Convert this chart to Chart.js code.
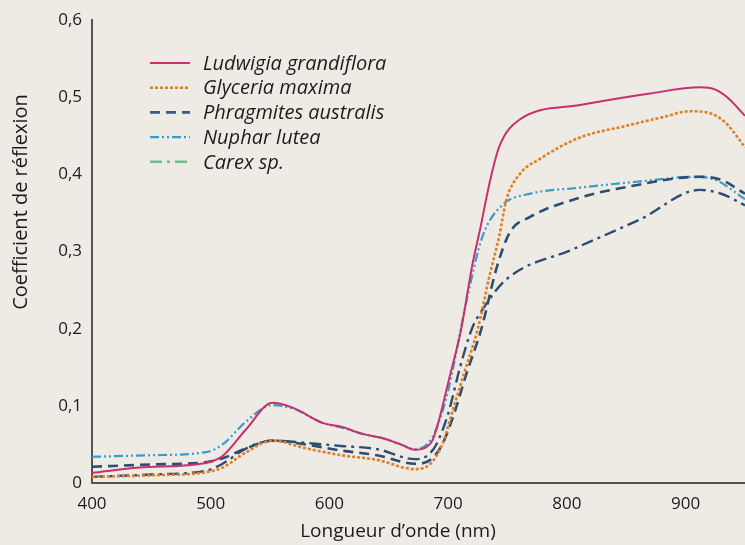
<!DOCTYPE html>
<html>
<head>
<meta charset="utf-8">
<script src="https://cdn.jsdelivr.net/npm/chart.js@4"></script>
<style>
  html, body { margin: 0; padding: 0; background: #eeebe5; }
  #wrap { width: 745px; height: 545px; position: relative; }
</style>
</head>
<body>
<div id="wrap"><canvas id="chart"></canvas></div>
<script>
// wavelengths (nm) and reflectance for each species
const ludwigiaNm  = [400, 440, 496, 510, 530, 552, 570, 594, 610, 627, 645, 660, 672, 682, 687, 693, 700, 711, 720, 727, 735, 743, 760, 811, 870, 912, 925, 935, 950];
const ludwigiaVal = [0.013, 0.020, 0.026, 0.035, 0.070, 0.104, 0.097, 0.078, 0.073, 0.064, 0.058, 0.050, 0.043, 0.047, 0.056, 0.086, 0.130, 0.200, 0.280, 0.330, 0.390, 0.436, 0.471, 0.490, 0.505, 0.513, 0.510, 0.500, 0.476];

const glyceriaNm  = [400, 450, 496, 510, 530, 552, 580, 610, 640, 672, 685, 695, 705, 715, 725, 735, 743, 749, 760, 777, 811, 847, 880, 904, 923, 935, 950];
const glyceriaVal = [0.008, 0.010, 0.014, 0.020, 0.040, 0.055, 0.045, 0.036, 0.030, 0.018, 0.025, 0.050, 0.100, 0.150, 0.200, 0.270, 0.320, 0.367, 0.400, 0.420, 0.448, 0.462, 0.474, 0.482, 0.478, 0.465, 0.435];

const phragNm  = [400, 450, 496, 510, 530, 552, 580, 610, 640, 672, 685, 695, 705, 715, 728, 741, 752, 769, 811, 851, 912, 930, 950];
const phragVal = [0.021, 0.024, 0.027, 0.032, 0.045, 0.055, 0.050, 0.042, 0.036, 0.025, 0.030, 0.050, 0.090, 0.140, 0.200, 0.280, 0.325, 0.345, 0.370, 0.384, 0.397, 0.393, 0.375];

const nupharNm  = [400, 450, 496, 510, 530, 552, 570, 594, 610, 627, 645, 660, 672, 682, 690, 700, 716, 729, 746, 766, 811, 862, 906, 925, 950];
const nupharVal = [0.034, 0.036, 0.040, 0.050, 0.080, 0.101, 0.096, 0.078, 0.072, 0.064, 0.058, 0.050, 0.044, 0.050, 0.070, 0.120, 0.240, 0.320, 0.361, 0.374, 0.383, 0.391, 0.397, 0.393, 0.368];

const carexNm  = [400, 450, 496, 510, 530, 552, 580, 610, 640, 672, 682, 690, 700, 710, 720, 729, 749, 805, 862, 912, 930, 950];
const carexVal = [0.008, 0.011, 0.016, 0.025, 0.045, 0.055, 0.052, 0.048, 0.044, 0.031, 0.035, 0.050, 0.090, 0.150, 0.200, 0.225, 0.264, 0.303, 0.342, 0.380, 0.375, 0.360];

const speciesNames = ['Ludwigia grandiflora', 'Glyceria maxima', 'Phragmites australis', 'Nuphar lutea', 'Carex sp.'];
const xTicks = [400, 500, 600, 700, 800, 900];

const pts = (xs, ys) => xs.map((x, i) => ({ x, y: ys[i] }));

const FONT = '"Open Sans", "Noto Sans", sans-serif';
const INK = '#1c1c1c';

const series = [
  { data: pts(ludwigiaNm, ludwigiaVal), color: '#c8306f', dash: [], width: 2, legendColor: '#c8306f' },
  { data: pts(glyceriaNm, glyceriaVal), color: '#df7f25', dash: [3, 2], width: 2.6, legendColor: '#df7f25' },
  { data: pts(phragNm, phragVal), color: '#2e4d72', dash: [10, 6], width: 2.6, legendColor: '#3a5a85' },
  { data: pts(nupharNm, nupharVal), color: '#3a9bc8', dash: [9, 3, 2, 3, 2, 3], width: 2.2, legendColor: '#3a9bc8' },
  { data: pts(carexNm, carexVal), color: '#2e4d72', dash: [12, 5, 3, 5], width: 2.4, legendColor: '#6dbf8c' }
];

// legend inside the plot + axis titles placed like the original
const extras = {
  id: 'extras',
  afterDraw(chart) {
    const ctx = chart.ctx;
    const x0 = 150, y0 = 63, row = 24.7;
    ctx.save();
    chart.data.datasets.forEach((ds, i) => {
      const y = y0 + i * row;
      ctx.beginPath();
      ctx.setLineDash(ds.borderDash || []);
      ctx.strokeStyle = ds.legendColor;
      ctx.lineWidth = ds.borderWidth;
      ctx.moveTo(x0, y);
      ctx.lineTo(x0 + 40, y);
      ctx.stroke();
      ctx.setLineDash([]);
      ctx.fillStyle = INK;
      ctx.font = 'italic 20px ' + FONT;
      ctx.textBaseline = 'middle';
      ctx.fillText(ds.label, x0 + 53, y + 1);
    });
    ctx.font = '19px ' + FONT;
    ctx.textAlign = 'center';
    ctx.textBaseline = 'middle';
    ctx.fillText('Longueur d\u2019onde (nm)', 398, 532);
    ctx.translate(21, 202);
    ctx.rotate(-Math.PI / 2);
    ctx.font = '20px ' + FONT;
    ctx.fillText('Coefficient de r\u00e9flexion', 0, 0);
    ctx.restore();
  }
};

new Chart(document.getElementById('chart'), {
  type: 'line',
  data: {
    datasets: series.map((s, i) => ({
      label: speciesNames[i],
      data: s.data,
      borderColor: s.color,
      legendColor: s.legendColor,
      borderDash: s.dash,
      borderWidth: s.width,
      pointRadius: 0,
      fill: false,
      cubicInterpolationMode: 'monotone'
    }))
  },
  options: {
    responsive: true,
    maintainAspectRatio: false,
    animation: false,
    layout: { padding: { top: 12, right: 0, left: 0, bottom: 0 } },
    plugins: { legend: { display: false }, tooltip: { enabled: false } },
    scales: {
      x: {
        type: 'linear', min: 400, max: 950,
        afterBuildTicks: axis => { axis.ticks = xTicks.map(v => ({ value: v })); },
        afterFit: axis => { axis.height = 62; },
        grid: { display: false, drawTicks: false },
        border: { display: true, color: '#57534f', width: 2 },
        ticks: { color: INK, font: { family: FONT, size: 17 }, padding: 11 }
      },
      y: {
        min: 0, max: 0.6,
        afterFit: axis => { axis.width = 92; },
        grid: { display: false, drawTicks: false },
        border: { display: true, color: '#57534f', width: 2 },
        ticks: {
          stepSize: 0.1, color: INK, font: { family: FONT, size: 17 }, padding: 10,
          callback: v => v === 0 ? '0' : v.toFixed(1).replace('.', ',')
        }
      }
    }
  },
  plugins: [extras]
});
</script>
</body>
</html>
